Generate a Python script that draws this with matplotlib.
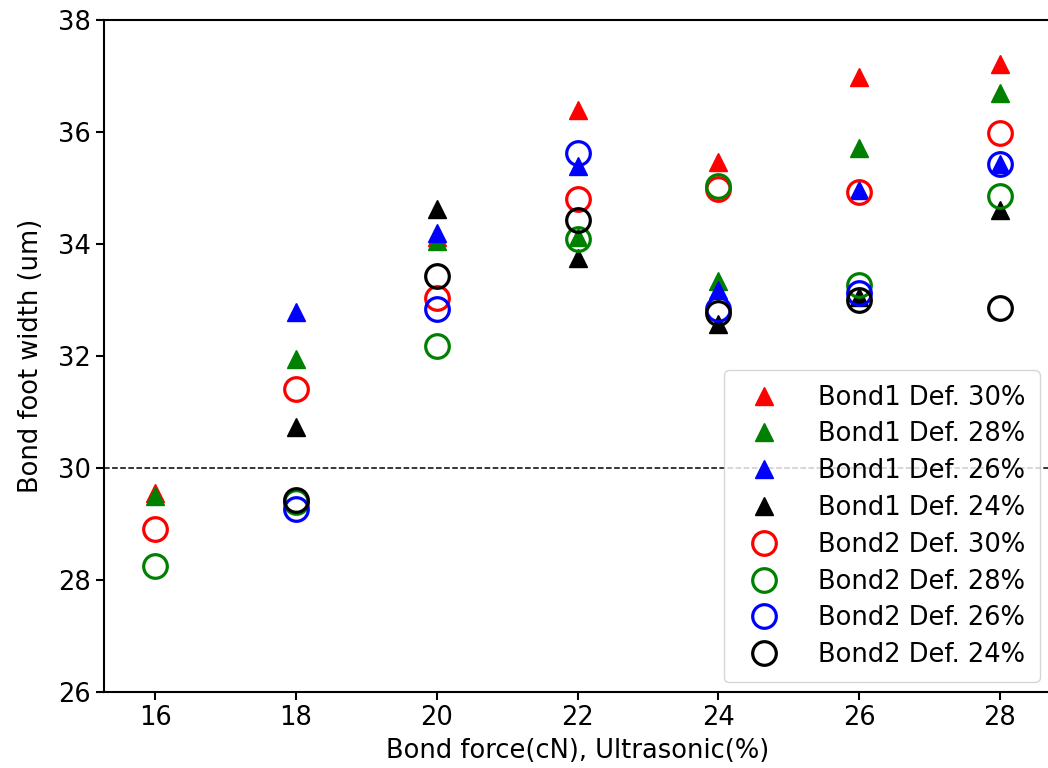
import matplotlib
matplotlib.use('Agg')
import matplotlib.pyplot as plt
import numpy as np

nan = np.nan

force = [16, 18, 20, 22, 24, 26, 28]

# bond1 (triangles)
b1_30 = [29.55, nan, 34.12, 36.39, 35.47, 36.99, 37.21]
b1_28 = [29.50, 31.95, 34.05, 34.13, 33.34, 35.71, 36.69]
b1_26 = [nan, 32.79, 34.20, 35.39, 33.18, 34.96, 35.43]
b1_24 = [nan, 30.73, 34.62, 33.75, 32.58, 33.05, 34.61]

# bond2 (circles)
b2_30 = [28.91, 31.41, 33.03, 34.80, 34.98, 34.93, 35.98]
b2_28 = [28.25, 29.39, 32.18, 34.09, 35.04, 33.27, 34.86]
b2_26 = [nan, 29.27, 32.84, 35.63, 32.84, 33.13, 35.43]
b2_24 = [nan, 29.43, 33.42, 34.42, 32.77, 33.00, 32.85]

colours = ['r', 'g', 'b', 'k']
defs = ['30%', '28%', '26%', '24%']

plt.rcParams['font.family'] = 'DejaVu Sans'
fs = 18.5

fig = plt.figure(figsize=(10.48, 7.68), dpi=100)
ax = fig.add_axes([104/1048, 76/768, 948/1048, 672/768])

for y, c, d in zip([b1_30, b1_28, b1_26, b1_24], colours, defs):
	ax.plot(force, y, '^', c=c, ms=13, mec=c, label='Bond1 Def. ' + d)
for y, c, d in zip([b2_30, b2_28, b2_26, b2_24], colours, defs):
	ax.plot(force, y, 'o', ms=17, mfc='none', mec=c, mew=2.3, label='Bond2 Def. ' + d)

ax.axhline(30, c='k', lw=1.1, ls='--')

ax.set_xlim(15.274, 28.74)
ax.set_ylim(26, 38)
ax.set_xticks(force)
ax.set_yticks([26, 28, 30, 32, 34, 36, 38])
ax.tick_params(labelsize=fs, width=1.5, length=6)
for s in ax.spines.values():
	s.set_linewidth(1.5)
ax.set_xlabel('Bond force(cN), Ultrasonic(%)', fontsize=fs, labelpad=5)
ax.set_ylabel('Bond foot width (um)', fontsize=fs, labelpad=10)

leg = ax.legend(loc='lower right', bbox_to_anchor=(0.995, 0.003), fontsize=fs,
	numpoints=1, framealpha=0.8, edgecolor='0.8', borderpad=0.55, labelspacing=0.42,
	handletextpad=1.1, borderaxespad=0.3)

fig.savefig('out.png', dpi=100)
